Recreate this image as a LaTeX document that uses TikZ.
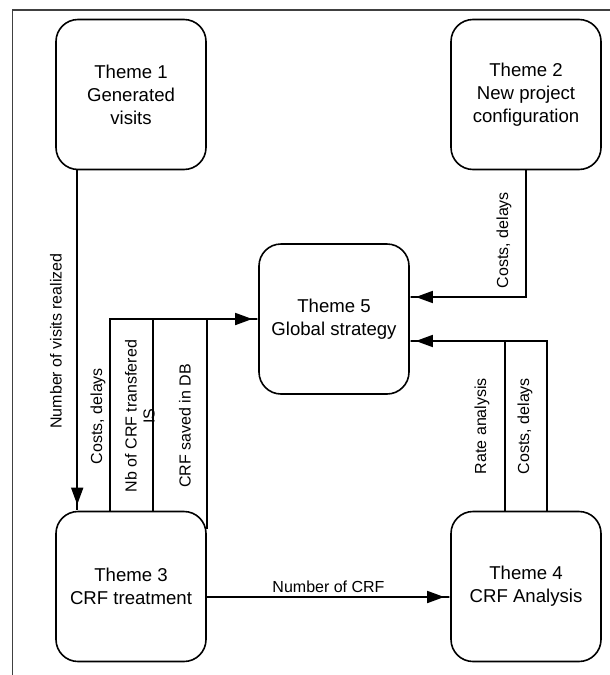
\documentclass[tikz,border=0pt]{standalone}
\usepackage{fontspec}
\setmainfont{Liberation Sans}
\usetikzlibrary{arrows.meta,positioning}

\tikzset{
  theme/.style={draw,line width=1.6pt,rounded corners=22pt,minimum width=150pt,
    minimum height=150pt,align=center,font=\fontsize{18.6pt}{23pt}\selectfont},
  lbl/.style={font=\fontsize{16pt}{18pt}\selectfont,inner sep=1pt,align=center},
  flow/.style={line width=1.6pt},
  arr/.style={flow,-{Triangle[length=17pt,width=12pt]Rectangle[length=6pt,width=1.6pt]}},
}

\begin{document}
\begin{tikzpicture}[x=1pt,y=-1pt]
  \useasboundingbox (0,0) rectangle (610,675);
  \draw[black!75,line width=1.6pt] (12.5,675) |- (610,10);

  \node[theme] (t1) at (131,94.5) {Theme 1\\Generated\\visits};
  \node[theme] (t2) at (526,94.5) {Theme 2\\New project\\configuration};
  \node[theme] (t5) at (334,319) {Theme 5\\Global strategy};
  \node[theme] (t3) at (131,586.5) {Theme 3\\CRF treatment};
  \node[theme] (t4) at (526,586.5) {Theme 4\\CRF Analysis};

  \draw[arr] ([xshift=22pt]t1.south west) -- ([xshift=22pt]t3.north west);
  \draw[arr] (t2.south) |- ([yshift=22pt]t5.east);
  \draw[arr] ([xshift=-21pt]t3.north) |- (t5.west);
  \draw[flow] ([xshift=22pt]t3.north) -- ([xshift=22pt]t3.north |- t5.west);
  \draw[flow] ([yshift=-18pt]t3.north east) -- (t3.east |- t5.west);
  \draw[arr] ([xshift=21pt]t4.north) |- ([yshift=-22pt]t5.east);
  \draw[flow] ([xshift=-21pt]t4.north) -- ++(0,-171);
  \draw[arr] ([yshift=-10.5pt]t3.east) -- node[lbl,above=3pt] (l9) {Number of CRF} ([yshift=-10.5pt]t4.west);

  \node[lbl,rotate=90] (l1) at (56,341) {Number of visits realized};
  \node[lbl,rotate=90] (l2) at (504,240) {Costs, delays};
  \node[lbl,rotate=90] (l3) at (98,416) {Costs, delays};
  \node[lbl,rotate=90] (l4) at (140,416) {Nb of CRF transfered\\IS};
  \node[lbl,rotate=90] (l5) at (185,426) {CRF saved in DB};
  \node[lbl,rotate=90] (l6) at (482,426) {Rate analysis};
  \node[lbl,rotate=90] (l7) at (525,426) {Costs, delays};
\end{tikzpicture}
\end{document}
